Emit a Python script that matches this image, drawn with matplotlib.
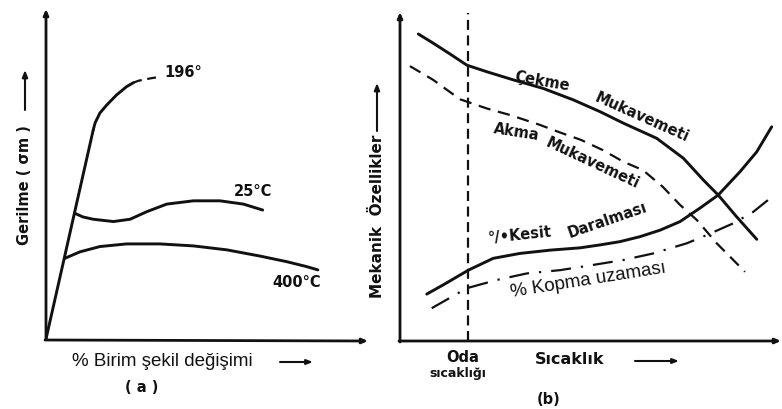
import matplotlib
matplotlib.use("Agg")
import matplotlib.pyplot as plt
from matplotlib.patches import FancyArrowPatch

W, H = 782, 409

# ---------------- Panel (a) data: stress vs strain (arbitrary units 0-100) ----
elastic_x = [0.0, 14.7]
elastic_y = [0.0, 63.5]
c196_x = [14.7, 15.3, 16.8, 18.9, 22.0, 25.1, 27.2]
c196_y = [63.5, 65.7, 68.7, 71.1, 74.2, 76.7, 77.9]
c196_dash_x = [27.2, 28.8, 32.4, 35.5]
c196_dash_y = [77.9, 78.5, 79.2, 79.7]
c25_x = [9.0, 11.5, 14.7, 21.0, 26.2, 31.4, 37.6, 45.9, 54.2, 61.5, 67.5]
c25_y = [38.2, 37.1, 36.4, 35.7, 36.4, 38.7, 41.0, 42.0, 42.0, 41.0, 39.2]
c400_x = [5.8, 10.6, 16.8, 25.1, 35.5, 45.9, 56.3, 66.7, 75.0, 81.2, 84.7]
c400_y = [24.5, 26.5, 28.1, 28.9, 28.9, 28.3, 27.1, 25.2, 23.5, 22.0, 21.0]

# ---------------- Panel (b) data: mechanical properties vs temperature -------
oda_x = 17.8
cekme_x = [4.8, 8.7, 13.1, 17.5, 22.7, 29.7, 37.5, 45.4, 52.4, 58.5, 67.2, 74.2,
           79.4, 83.3, 88.1, 93.4]
cekme_y = [93.6, 90.8, 87.5, 84.1, 82.1, 79.6, 77.0, 73.5, 69.9, 66.4, 61.8, 55.7,
           49.1, 44.5, 37.9, 31.0]
akma_x = [2.6, 8.7, 15.7, 22.7, 28.8, 36.6, 41.6, 47.4, 53.1, 58.4, 63.6, 68.8,
          73.3, 77.7, 82.9, 86.4, 90.3]
akma_y = [83.8, 79.6, 73.7, 70.9, 68.9, 65.9, 63.7, 61.3, 58.2, 54.7, 52.1, 47.0,
          41.5, 36.9, 29.8, 25.7, 21.1]
kesit_x = [7.0, 11.3, 17.9, 24.4, 31.4, 39.3, 47.1, 52.4, 57.6, 62.8, 68.1, 73.3,
           78.5, 83.3, 89.0, 93.4, 97.3]
kesit_y = [14.3, 17.1, 21.6, 25.2, 26.7, 27.7, 28.4, 29.3, 30.3, 31.8, 33.8, 36.4,
           40.5, 44.5, 51.6, 57.7, 65.3]
kopma_x = [8.3, 17.5, 25.3, 33.2, 41.9, 50.6, 58.5, 66.3, 75.1, 80.3, 87.3, 92.5, 96.9]
kopma_y = [10.0, 16.1, 18.6, 20.6, 21.6, 23.2, 24.7, 26.7, 29.8, 32.3, 35.9, 39.4, 43.5]

fig = plt.figure(figsize=(W / 100, H / 100), dpi=100)
fig.patch.set_facecolor("white")

def fx(px):
    return px / W

def fy(py):
    return 1 - py / H

BOLD = dict(family="DejaVu Sans", fontweight="bold", color="#111111")
REG = dict(family="Liberation Sans", color="#111111")
LW = 2.1
K = "#111111"

def setup(ax):
    ax.set_xlim(0, 100)
    ax.set_ylim(0, 100)
    for s in ax.spines.values():
        s.set_visible(False)
    ax.set_xticks([])
    ax.set_yticks([])
    ax.patch.set_alpha(0)

def arrow_fig(x0, y0, x1, y1, lw=1.6, hw=0.35, hl=0.8):
    fig.add_artist(FancyArrowPatch(
        (fx(x0), fy(y0)), (fx(x1), fy(y1)), transform=fig.transFigure,
        arrowstyle=f"-|>,head_length={hl*4},head_width={hw*4}",
        mutation_scale=1, lw=lw, color=K, shrinkA=0, shrinkB=0))

# ---------------- Panel (a) ----------------
ax_a = fig.add_axes([fx(46), fy(339), (367 - 46) / W, (339 - 10) / H])
setup(ax_a)
ax_a.plot(elastic_x, elastic_y, color=K, lw=LW, solid_capstyle="round")
ax_a.plot(c196_x, c196_y, color=K, lw=LW, solid_capstyle="round", solid_joinstyle="round")
ax_a.plot(c196_dash_x, c196_dash_y, color=K, lw=1.6, dashes=(4, 2.5))
ax_a.plot(c25_x, c25_y, color=K, lw=LW, solid_capstyle="round", solid_joinstyle="round")
ax_a.plot(c400_x, c400_y, color=K, lw=LW, solid_capstyle="round", solid_joinstyle="round")
ax_a.text(42.7, 80.9, "196°", ha="center", va="center", fontsize=10.5, **BOLD)
ax_a.text(64.5, 44.7, "25°C", ha="center", va="center", fontsize=10.5, **BOLD)
ax_a.text(78.2, 17.3, "400°C", ha="center", va="center", fontsize=10.5, **BOLD)

arrow_fig(46, 339, 46, 9, lw=2.0)
arrow_fig(45, 340, 368, 341, lw=2.0)

fig.text(fx(25), fy(185), "Gerilme ( σm )", rotation=90, ha="center", va="center",
         fontsize=10.5, **BOLD)
arrow_fig(25, 110, 25, 70, lw=1.5, hw=0.4, hl=1.0)
fig.text(fx(162), fy(362), "% Birim şekil değişimi", ha="center", va="center",
         fontsize=13.5, **REG)
arrow_fig(280, 362, 313, 362, lw=1.5, hw=0.35, hl=0.9)
fig.text(fx(142), fy(388), "( a )", ha="center", va="center", fontsize=10.5, **BOLD)

# ---------------- Panel (b) ----------------
ax_b = fig.add_axes([fx(400), fy(341), (782 - 400) / W, (341 - 13) / H])
setup(ax_b)
ax_b.axvline(oda_x, color=K, lw=1.6, dashes=(4.5, 2.5))
ax_b.plot(cekme_x, cekme_y, color=K, lw=LW, solid_capstyle="round", solid_joinstyle="round")
ax_b.plot(akma_x, akma_y, color=K, lw=1.6, dashes=(5.5, 3.5))
ax_b.plot(kesit_x, kesit_y, color=K, lw=LW, solid_capstyle="round", solid_joinstyle="round")
ax_b.plot(kopma_x, kopma_y, color=K, lw=1.6, dashes=(9, 4.5, 1, 4.5))

ax_b.text(37.2, 79.0, "Çekme", rotation=-10, ha="center", va="center", fontsize=10.5, **BOLD)
ax_b.text(63.4, 68.0, "Mukavemeti", rotation=-24, ha="center", va="center", fontsize=10.5, **BOLD)
ax_b.text(30.6, 63.7, "Akma", rotation=-9, ha="center", va="center", fontsize=10.5, **BOLD)
ax_b.text(50.5, 54.3, "Mukavemeti", rotation=-25, ha="center", va="center", fontsize=10.5, **BOLD)
ax_b.text(31.4, 32.3, "°/•Kesit", rotation=6, ha="center", va="center", fontsize=10.5, **BOLD)
ax_b.text(54.2, 36.9, "Daralması", rotation=19, ha="center", va="center", fontsize=10.5, **BOLD)
ax_b.text(49.2, 18.6, "% Kopma uzaması", rotation=9, ha="center", va="center",
          fontsize=13.5, **REG)

arrow_fig(400, 342, 400, 12, lw=2.0)
arrow_fig(399, 341, 781, 341, lw=2.0)

fig.text(fx(377), fy(216), "Mekanik  Özellikler", rotation=90, ha="center", va="center",
         fontsize=11, **BOLD)
arrow_fig(377, 131, 377, 83, lw=1.5, hw=0.4, hl=1.0)
fig.text(fx(463), fy(358), "Oda", ha="center", va="center", fontsize=10.5, **BOLD)
fig.text(fx(458), fy(374), "sıcaklığı", ha="center", va="center", fontsize=9, **BOLD)
fig.text(fx(570), fy(360), "Sıcaklık", ha="center", va="center", fontsize=11.5, **BOLD)
arrow_fig(635, 361, 679, 361, lw=1.5, hw=0.35, hl=0.9)
fig.text(fx(549), fy(399), "(b)", ha="center", va="center", fontsize=10.5, **BOLD)

fig.savefig("out.png", dpi=100, facecolor="white")
